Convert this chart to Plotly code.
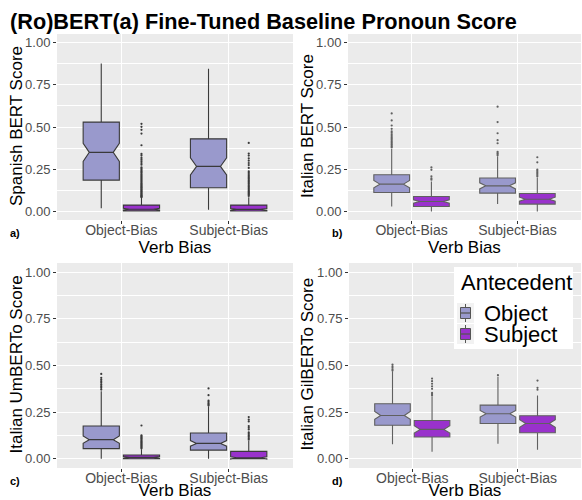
import plotly.graph_objects as go

# ---------------- data ----------------
verb_bias = ["Object-Bias", "Subject-Bias"]
antecedents = ["Object", "Subject"]
y_titles = ["Spanish BERT Score", "Italian BERT Score", "Italian UmBERTo Score", "Italian GilBERTo Score"]
panel_tags = ["a)", "b)", "c)", "d)"]
y_tick_vals = [0.0, 0.25, 0.5, 0.75, 1.0]
y_tick_text = ["0.00", "0.25", "0.50", "0.75", "1.00"]
legend_title = "Antecedent"

# box statistics: one row per panel (a, b, c, d), columns = [Object-Bias, Subject-Bias]
obj_lower = [[0.020, 0.010], [0.030, 0.044], [0.000, 0.000], [0.077, 0.080]]
obj_q1 = [[0.186, 0.141], [0.113, 0.109], [0.054, 0.046], [0.179, 0.189]]
obj_median = [[0.350, 0.267], [0.162, 0.152], [0.102, 0.082], [0.232, 0.241]]
obj_q3 = [[0.529, 0.430], [0.218, 0.198], [0.175, 0.1375], [0.295, 0.2875]]
obj_upper = [[0.875, 0.845], [0.370, 0.327], [0.362, 0.282], [0.469, 0.440]]
obj_notch = [[0.054, 0.050], [0.022, 0.018], [0.020, 0.015], [0.021, 0.018]]

sub_lower = [[0.000, 0.000], [0.000, 0.000], [0.000, 0.000], [0.0375, 0.048]]
sub_q1 = [[0.004, 0.003], [0.030, 0.044], [0.000, 0.000], [0.116, 0.139]]
sub_median = [[0.014, 0.013], [0.059, 0.073], [0.007, 0.004], [0.157, 0.189]]
sub_q3 = [[0.038, 0.038], [0.089, 0.107], [0.020, 0.039], [0.205, 0.230]]
sub_upper = [[0.080, 0.085], [0.178, 0.202], [0.050, 0.095], [0.335, 0.339]]
sub_notch = [[0.005, 0.005], [0.010, 0.012], [0.004, 0.006], [0.020, 0.020]]

# outliers: [Object-Bias list, Subject-Bias list]
spanish_bert_object_outliers = [[], []]
spanish_bert_subject_outliers = [
    [0.519, 0.501, 0.483, 0.461, 0.392, 0.341, 0.331, 0.317, 0.307, 0.297, 0.287, 0.277,
     0.262, 0.255, 0.248, 0.241, 0.235, 0.229, 0.222, 0.216, 0.210, 0.204, 0.198, 0.192,
     0.186, 0.180, 0.174, 0.168, 0.162, 0.156, 0.150, 0.145, 0.140, 0.135, 0.130, 0.125,
     0.120, 0.115, 0.110, 0.105, 0.100, 0.096, 0.092, 0.088, 0.085],
    [0.406, 0.343, 0.331, 0.315, 0.301, 0.287, 0.275, 0.258, 0.238, 0.230, 0.222, 0.214,
     0.206, 0.199, 0.192, 0.185, 0.178, 0.171, 0.164, 0.157, 0.150, 0.143, 0.136, 0.129,
     0.122, 0.116, 0.110, 0.104, 0.098, 0.092],
]
italian_bert_object_outliers = [
    [0.580, 0.539, 0.509, 0.489, 0.475, 0.466, 0.457, 0.448, 0.440, 0.432, 0.424, 0.416,
     0.408, 0.400, 0.393, 0.386, 0.379],
    [0.620, 0.529, 0.463, 0.422, 0.404, 0.353, 0.346, 0.340, 0.333],
]
italian_bert_subject_outliers = [
    [0.261, 0.247, 0.208, 0.196, 0.188],
    [0.321, 0.291, 0.248, 0.240, 0.232, 0.224, 0.216, 0.208],
]
umberto_object_outliers = [
    [0.455, 0.434, 0.425, 0.416, 0.407, 0.398, 0.389, 0.380, 0.371],
    [0.377, 0.341, 0.312, 0.305, 0.298, 0.291, 0.286],
]
umberto_subject_outliers = [
    [0.178, 0.125, 0.120, 0.115, 0.110, 0.105, 0.100, 0.095, 0.090, 0.085, 0.080, 0.075,
     0.070, 0.065, 0.060, 0.055],
    [0.223, 0.210, 0.200, 0.175, 0.166, 0.157, 0.141, 0.133, 0.125, 0.118, 0.110, 0.102],
]
gilberto_object_outliers = [
    [0.505, 0.496, 0.488, 0.480, 0.473],
    [0.448],
]
gilberto_subject_outliers = [
    [0.430, 0.416, 0.402, 0.388, 0.375, 0.353, 0.347, 0.341],
    [0.419, 0.380, 0.370],
]

object_outliers = [spanish_bert_object_outliers, italian_bert_object_outliers,
                   umberto_object_outliers, gilberto_object_outliers]
subject_outliers = [spanish_bert_subject_outliers, italian_bert_subject_outliers,
                    umberto_subject_outliers, gilberto_subject_outliers]

# ---------------- style ----------------
W, H = 582, 500
FONT = "Liberation Sans"
fill_colors = {"Object": "#9999CC", "Subject": "#9932CC"}
panel_line = ["#3a3a3a", "#606060", "#3a3a3a", "#606060"]
dodge = {"Object": -0.1875, "Subject": 0.1875}
box_width = 0.3375

# panel pixel boxes: (left, right, top, bottom)
panel_px = [(57, 293, 34, 220), (348, 581, 34, 220),
            (57, 293, 263, 468), (349, 581, 263, 468)]
y_title_x = [16, 307, 16, 307]


def px(x):
    return x / W


def py(y):
    return 1 - y / H


fig = go.Figure()

stats = {
    "Object": (obj_lower, obj_q1, obj_median, obj_q3, obj_upper, obj_notch, object_outliers),
    "Subject": (sub_lower, sub_q1, sub_median, sub_q3, sub_upper, sub_notch, subject_outliers),
}

for p in range(4):
    xa = "x" if p == 0 else f"x{p + 1}"
    ya = "y" if p == 0 else f"y{p + 1}"
    for ant in antecedents:
        lo, q1, md, q3, up, nt, outs = stats[ant]
        xs = [i + 1 + dodge[ant] for i in range(len(verb_bias))]
        fig.add_trace(go.Box(
            x=xs, q1=q1[p], median=md[p], q3=q3[p],
            lowerfence=lo[p], upperfence=up[p], notchspan=nt[p],
            notched=True, notchwidth=0.17, width=box_width, whiskerwidth=0,
            boxpoints=False, fillcolor=fill_colors[ant],
            line=dict(color=panel_line[p], width=1.1),
            name=ant, legendgroup=ant, showlegend=False,
            xaxis=xa, yaxis=ya, hoverinfo="skip",
        ))
        ox, oy = [], []
        for i in range(len(verb_bias)):
            for v in outs[p][i]:
                ox.append(i + 1 + dodge[ant])
                oy.append(v)
        fig.add_trace(go.Scatter(
            x=ox, y=oy, mode="markers",
            marker=dict(size=2.2, color=panel_line[p]),
            showlegend=False, xaxis=xa, yaxis=ya, hoverinfo="skip",
        ))

layout_axes = {}
annotations = []
shapes = []
for p in range(4):
    l, r, t, b = panel_px[p]
    xk = "xaxis" if p == 0 else f"xaxis{p + 1}"
    yk = "yaxis" if p == 0 else f"yaxis{p + 1}"
    xref = "x" if p == 0 else f"x{p + 1}"
    yref = "y" if p == 0 else f"y{p + 1}"
    layout_axes[xk] = dict(
        domain=[px(l), px(r)], anchor=yref, range=[0.4, 2.6], automargin=False,
        tickvals=[1, 2], ticktext=verb_bias, ticks="outside", ticklen=3,
        ticklabelstandoff=-6,
        tickcolor="#333333", tickfont=dict(size=14, color="#4D4D4D", family=FONT),
        showgrid=True, gridcolor="white", gridwidth=1.1, zeroline=False,
        showline=False,
        title=dict(text="Verb Bias", font=dict(size=17, color="black", family=FONT), standoff=0),
    )
    layout_axes[yk] = dict(
        domain=[py(b), py(t)], anchor=xref, range=[-0.05, 1.05], automargin=False,
        tickvals=y_tick_vals, ticktext=y_tick_text, ticks="outside", ticklen=3,
        tickcolor="#333333", tickfont=dict(size=13, color="#4D4D4D", family=FONT),
        showgrid=True, gridcolor="white", gridwidth=1.1, zeroline=False,
        minor=dict(tick0=0.125, dtick=0.25, showgrid=True, gridcolor="white", gridwidth=0.5),
        showline=False,
    )
    # y-axis title
    annotations.append(dict(
        text=y_titles[p], x=px(y_title_x[p]), y=py((t + b) / 2 - 1),
        xref="paper", yref="paper", showarrow=False, textangle=-90,
        xanchor="center", yanchor="middle",
        font=dict(size=17, color="black", family=FONT),
    ))
    tag_x = 15 if p % 2 == 0 else 337
    tag_y = 233 if p < 2 else 481
    annotations.append(dict(
        text=f"<b>{panel_tags[p]}</b>", x=px(tag_x), y=py(tag_y),
        xref="paper", yref="paper", showarrow=False, xanchor="center", yanchor="middle",
        font=dict(size=11, color="black", family=FONT),
    ))

# ---- legend (drawn in the lower-right panel, as in the reference) ----
shapes.append(dict(type="rect", xref="paper", yref="paper", x0=px(454), x1=px(573),
                   y0=py(349), y1=py(267), fillcolor="white", line=dict(width=0), layer="above"))
annotations.append(dict(text=legend_title, x=px(459), y=py(282), xref="paper", yref="paper",
                        showarrow=False, xanchor="left", yanchor="middle",
                        font=dict(size=22, color="black", family=FONT)))
key_centers = {"Object": 313, "Subject": 334}
for ant in antecedents:
    cy = key_centers[ant]
    shapes.append(dict(type="rect", xref="paper", yref="paper", x0=px(457), x1=px(474),
                       y0=py(cy + 10), y1=py(cy - 10), fillcolor="#F2F2F2",
                       line=dict(width=0), layer="above"))
    shapes.append(dict(type="line", xref="paper", yref="paper", x0=px(465.5), x1=px(465.5),
                       y0=py(cy + 9), y1=py(cy - 9), line=dict(color="#555555", width=1),
                       layer="above"))
    shapes.append(dict(type="rect", xref="paper", yref="paper", x0=px(460.5), x1=px(470.5),
                       y0=py(cy + 5.5), y1=py(cy - 5.5), fillcolor=fill_colors[ant],
                       line=dict(color="#555555", width=1), layer="above"))
    shapes.append(dict(type="line", xref="paper", yref="paper", x0=px(460.5), x1=px(470.5),
                       y0=py(cy), y1=py(cy), line=dict(color="#555555", width=1.3),
                       layer="above"))
    annotations.append(dict(text=ant, x=px(482), y=py(cy), xref="paper", yref="paper",
                            showarrow=False, xanchor="left", yanchor="middle",
                            font=dict(size=22, color="black", family=FONT)))

fig.update_layout(
    width=W, height=H,
    margin=dict(l=0, r=0, t=0, b=0, autoexpand=False),
    paper_bgcolor="white", plot_bgcolor="#EBEBEB",
    boxmode="overlay", showlegend=False,
    font=dict(family=FONT, color="black"),
    title=dict(text="<b>(Ro)BERT(a) Fine-Tuned Baseline Pronoun Score</b>",
               x=px(10), xanchor="left", y=py(21), yanchor="middle",
               font=dict(size=21.7, color="black", family=FONT)),
    annotations=annotations,
    shapes=shapes,
    **layout_axes,
)

fig.write_html("out.html", config={"displayModeBar": False},
               post_script="document.body.style.margin='0';document.body.style.padding='0';")
